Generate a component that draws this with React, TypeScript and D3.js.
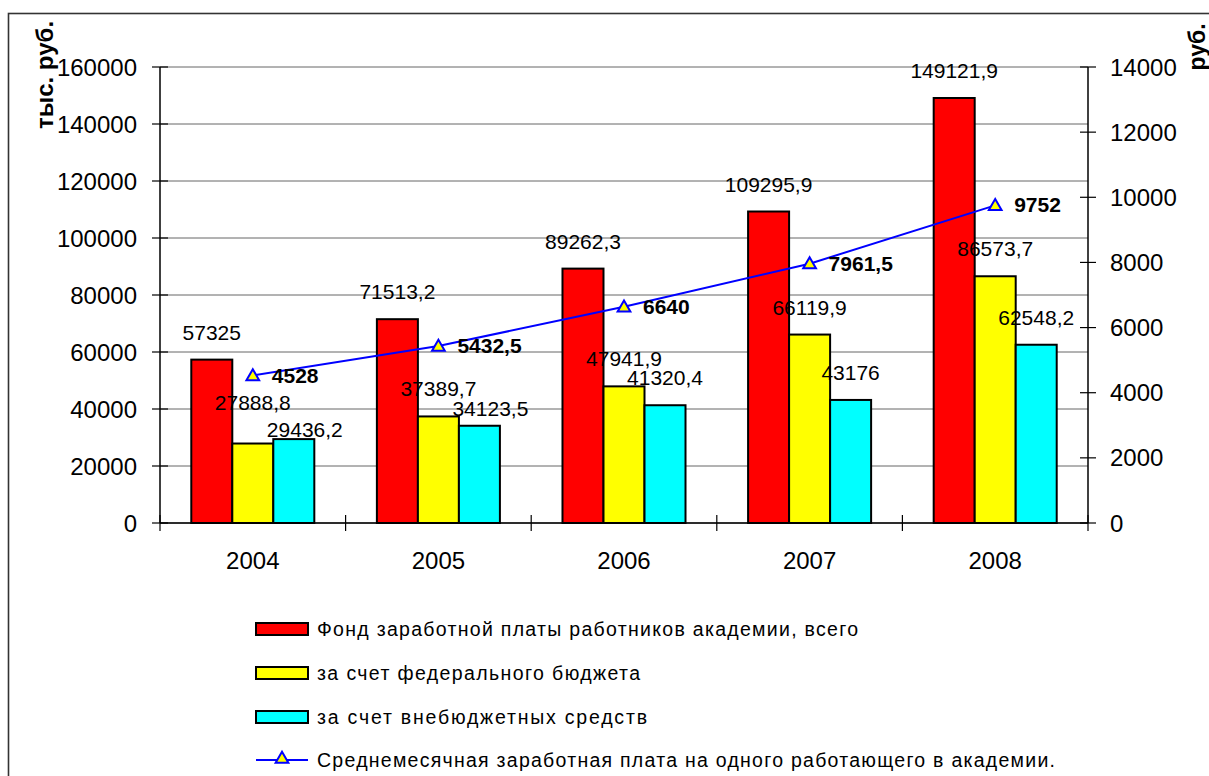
import React from "react";
import * as d3 from "d3";

const years = ["2004", "2005", "2006", "2007", "2008"];
const fundTotal = [57325, 71513.2, 89262.3, 109295.9, 149121.9];
const fundFederal = [27888.8, 37389.7, 47941.9, 66119.9, 86573.7];
const fundExtra = [29436.2, 34123.5, 41320.4, 43176, 62548.2];
const avgSalary = [4528, 5432.5, 6640, 7961.5, 9752];
const leftTicks = [0, 20000, 40000, 60000, 80000, 100000, 120000, 140000, 160000];
const rightTicks = [0, 2000, 4000, 6000, 8000, 10000, 12000, 14000];
const seriesNames = [
  "Фонд заработной платы работников академии, всего",
  "за счет федерального бюджета",
  "за счет внебюджетных средств",
];
const lineName = "Среднемесячная заработная плата на одного работающего в академии.";

const COLORS = ["#FF0000", "#FFFF00", "#00FFFF"];
const FONT = "'Liberation Sans', Arial, sans-serif";

// label nudges (placement adjustments to avoid overlaps), keyed "series-yearIndex"
const labelNudge: Record<string, [number, number]> = {
  "1-0": [0, -14],
  "2-0": [11, 18],
  "2-1": [11, 10],
};

const fmt = (v: number) => String(v).replace(".", ",");

export default function App() {
  const L = 160, R = 1088, T = 67, B = 523;
  const x0 = d3.scaleBand<string>().domain(years).range([L, R]).paddingInner(0).paddingOuter(0);
  const x1 = d3.scaleBand<number>().domain([0, 1, 2]).range([0, x0.bandwidth()]).paddingInner(0).paddingOuter(0.763);
  const yL = d3.scaleLinear().domain([0, 160000]).range([B, T]);
  const yR = d3.scaleLinear().domain([0, 14000]).range([B, T]);
  const series = [fundTotal, fundFederal, fundExtra];
  const cx = (i: number) => (x0(years[i]) as number) + x0.bandwidth() / 2;
  const lineGen = d3.line<number>().x((_, i) => cx(i)).y((d) => yR(d));
  const tri = d3.symbol().type(d3.symbolTriangle).size(70)();

  const legendY = [629, 673, 717, 760];
  const legendLen = [541, 323, 330, 738];

  return (
    <svg width={1209} height={776} style={{ position: "absolute", left: 0, top: 0 }} fontFamily={FONT}>
      <rect x={0} y={0} width={1209} height={776} fill="#fff" />
      <rect x={8.5} y={13.5} width={1210} height={800} fill="none" stroke="#333" strokeWidth={1.6} />

      {/* gridlines */}
      {leftTicks.map((t) => (
        <line key={"g" + t} x1={L} x2={R} y1={yL(t)} y2={yL(t)} stroke="#666" strokeWidth={1} />
      ))}

      {/* bars */}
      {series.map((vals, s) =>
        vals.map((v, i) => (
          <rect
            key={`b${s}-${i}`}
            x={(x0(years[i]) as number) + (x1(s) as number)}
            y={yL(v)}
            width={x1.bandwidth()}
            height={B - yL(v)}
            fill={COLORS[s]}
            stroke="#000"
            strokeWidth={2}
          />
        ))
      )}

      {/* axes */}
      <line x1={L} x2={L} y1={T} y2={B} stroke="#000" strokeWidth={1.5} />
      <line x1={R} x2={R} y1={T} y2={B} stroke="#000" strokeWidth={1.5} />
      <line x1={L} x2={R} y1={B} y2={B} stroke="#000" strokeWidth={1.5} />
      {leftTicks.map((t) => (
        <g key={"lt" + t}>
          <line x1={L - 8} x2={L + 8} y1={yL(t)} y2={yL(t)} stroke="#000" strokeWidth={1.2} />
          <text x={137} y={yL(t) + 8.5} textAnchor="end" fontSize={24} fill="#000">{t}</text>
        </g>
      ))}
      {rightTicks.map((t) => (
        <g key={"rt" + t}>
          <line x1={R - 8} x2={R + 8} y1={yR(t)} y2={yR(t)} stroke="#000" strokeWidth={1.2} />
          <text x={1110} y={yR(t) + 8.5} textAnchor="start" fontSize={24} fill="#000">{t}</text>
        </g>
      ))}
      {years.map((yv) => (
        <line key={"ct" + yv} x1={x0(yv) as number} x2={x0(yv) as number} y1={B - 8} y2={B + 8} stroke="#000" strokeWidth={1.2} />
      ))}
      <line x1={R} x2={R} y1={B - 8} y2={B + 8} stroke="#000" strokeWidth={1.2} />
      {years.map((yv, i) => (
        <text key={"cl" + yv} x={cx(i)} y={569} textAnchor="middle" fontSize={24} fill="#000">{yv}</text>
      ))}

      {/* axis titles */}
      <text transform="translate(53,75) rotate(-90)" textAnchor="middle" fontSize={24} fontWeight="bold" fill="#000">тыс. руб.</text>
      <text transform="translate(1205,47) rotate(-90)" textAnchor="middle" fontSize={23} fontWeight="bold" fill="#000">руб.</text>

      {/* line */}
      <path d={lineGen(avgSalary) as string} fill="none" stroke="#0000FF" strokeWidth={2} />
      {avgSalary.map((v, i) => (
        <g key={"m" + i}>
          <path d={tri as string} transform={`translate(${cx(i)},${yR(v) + 1})`} fill="#FFFF00" stroke="#0000FF" strokeWidth={2} />
          <text x={cx(i) + 19} y={yR(v) + 7} fontSize={21} fontWeight="bold" fill="#000">{fmt(v)}</text>
        </g>
      ))}

      {/* bar labels */}
      {series.map((vals, s) =>
        vals.map((v, i) => {
          const nd = labelNudge[`${s}-${i}`] || [0, 0];
          return (
            <text
              key={`l${s}-${i}`}
              x={(x0(years[i]) as number) + (x1(s) as number) + x1.bandwidth() / 2 + nd[0]}
              y={yL(v) - 20 + nd[1]}
              textAnchor="middle"
              fontSize={21}
              fill="#000"
            >
              {fmt(v)}
            </text>
          );
        })
      )}

      {/* legend */}
      {seriesNames.map((n, s) => (
        <g key={"lg" + s}>
          <rect x={256} y={legendY[s] - 6} width={52} height={12} fill={COLORS[s]} stroke="#000" strokeWidth={2} />
          <text x={317} y={legendY[s] + 7} fontSize={19.5} fill="#000" textLength={legendLen[s]} lengthAdjust="spacing">{n}</text>
        </g>
      ))}
      <g>
        <line x1={256} x2={308} y1={legendY[3]} y2={legendY[3]} stroke="#0000FF" strokeWidth={2} />
        <path d={tri as string} transform={`translate(282,${legendY[3] - 1})`} fill="#FFFF00" stroke="#0000FF" strokeWidth={2} />
        <text x={317} y={legendY[3] + 7} fontSize={19.5} fill="#000" textLength={legendLen[3]} lengthAdjust="spacing">{lineName}</text>
      </g>
    </svg>
  );
}
